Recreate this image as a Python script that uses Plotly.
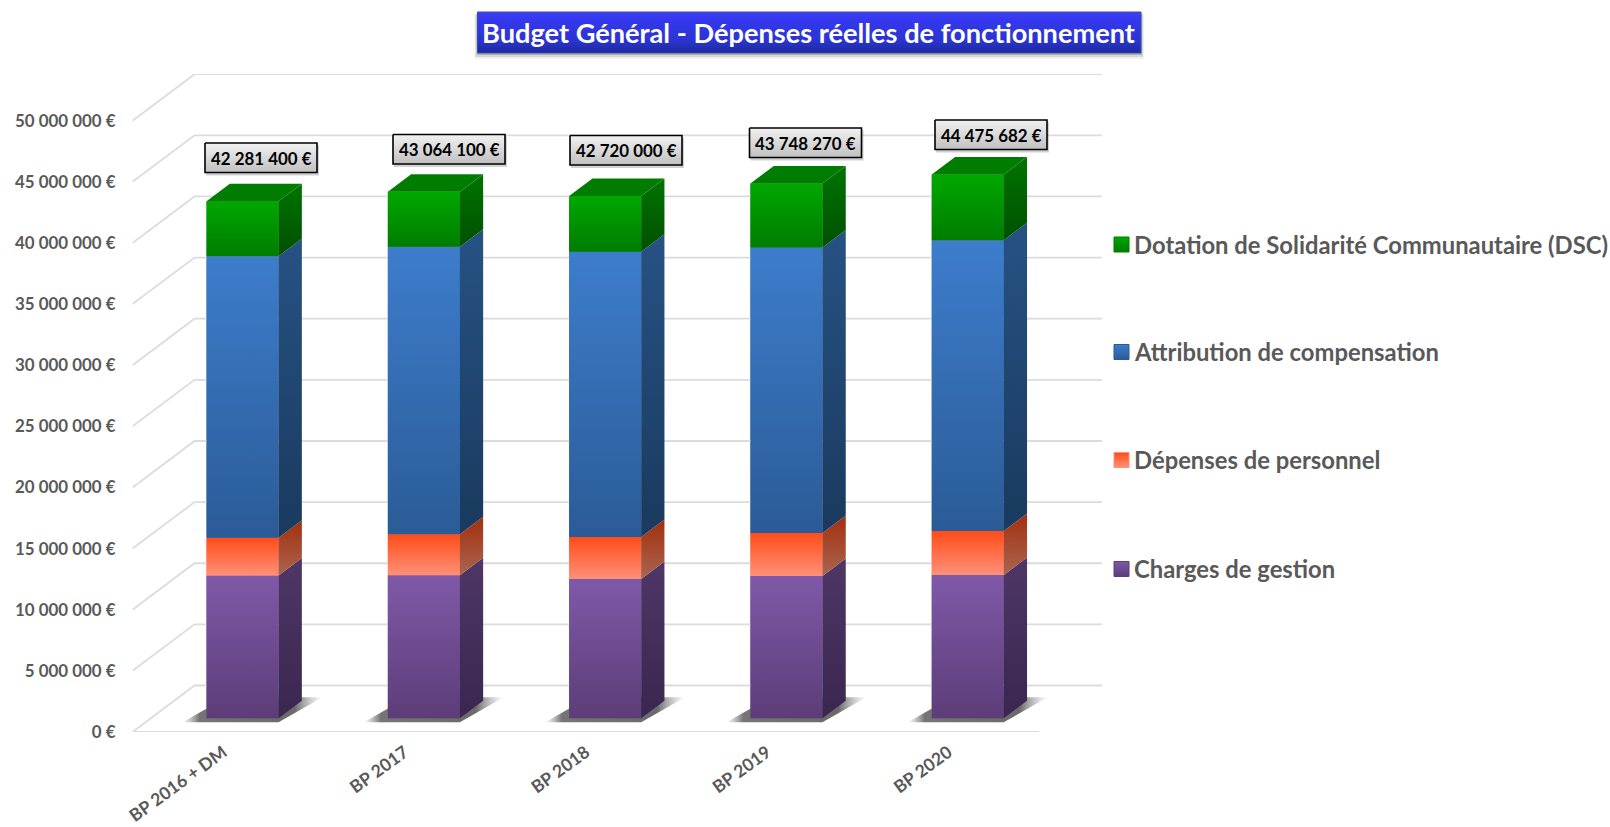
import plotly.graph_objects as go

# ---------- data ----------
categories = ["BP 2016 + DM", "BP 2017", "BP 2018", "BP 2019", "BP 2020"]
charges = [11670000, 11700000, 11390000, 11640000, 11720000]
personnel = [3100000, 3350000, 3440000, 3520000, 3610000]
attribution = [23030000, 23520000, 23340000, 23340000, 23770000]
dotation = [4481400, 4494100, 4550000, 5248270, 5375682]
totals = [42281400, 43064100, 42720000, 43748270, 44475682]
total_labels = ["42 281 400 €", "43 064 100 €", "42 720 000 €", "43 748 270 €", "44 475 682 €"]
y_ticks = [0, 5000000, 10000000, 15000000, 20000000, 25000000, 30000000, 35000000, 40000000, 45000000, 50000000]
y_tick_labels = ["0 €", "5 000 000 €", "10 000 000 €", "15 000 000 €", "20 000 000 €", "25 000 000 €",
                 "30 000 000 €", "35 000 000 €", "40 000 000 €", "45 000 000 €", "50 000 000 €"]
title_text = "Budget Général - Dépenses réelles de fonctionnement"

# ---------- geometry / styles ----------
W, H = 1610, 827
PX_LEFT, PX_RIGHT, PX_TOP, PX_BOTTOM = 132.5, 1102.0, 74.0, 732.0
PX_PER_CAT = 181.3
PX_PER_UNIT = 611.3 / 50e6
X0, X1 = -0.5, -0.5 + (PX_RIGHT - PX_LEFT) / PX_PER_CAT
Y1 = (PX_BOTTOM - PX_TOP) / PX_PER_UNIT
WALL_DX, WALL_DY = 62 / PX_PER_CAT, 46.5 / PX_PER_UNIT
BAR_CENTER = 0.107
BAR_W = 72 / PX_PER_CAT
BAR_BASE = 13.7 / PX_PER_UNIT
SIDE_DX, SIDE_DY = 23.3 / PX_PER_CAT, 17.5 / PX_PER_UNIT
FONT = "Lato, Carlito, Calibri, sans-serif"
GREY = "#595959"

series = [
    dict(name="Charges de gestion", values=charges, base="#6d4a94",
         front=("#5c3d78", "#7f59a8"), side=("#3a2650", "#4e3766")),
    dict(name="Dépenses de personnel", values=personnel, base="#ff6a40",
         front=("#ff9078", "#ff4c18"), side=("#ab6450", "#a2300e")),
    dict(name="Attribution de compensation", values=attribution, base="#3369ae",
         front=("#2b5b97", "#3d7dcc"), side=("#1a3a5e", "#265284")),
    dict(name="Dotation de Solidarité Communautaire (DSC)", values=dotation, base="#009400",
         front=("#007c00", "#00a800"), side=("#005000", "#007400")),
]


def gradient(low, high):
    return dict(type="vertical", colorscale=[[0, low], [1, high]])


fig = go.Figure()

# native stacked bars (front faces), positioned by explicit bases on the y scale
cum = [BAR_BASE] * len(categories)
xs = [i + BAR_CENTER for i in range(len(categories))]
for s in series:
    fig.add_trace(go.Bar(x=xs, y=s["values"], base=list(cum), width=BAR_W, name=s["name"],
                         marker=dict(color=s["base"], line=dict(width=0)), hoverinfo="skip", showlegend=False))
    s["bottoms"] = list(cum)
    cum = [c + v for c, v in zip(cum, s["values"])]

# perspective gridlines
for v in y_ticks:
    gx = [X0, X0 + WALL_DX, X1] if v else [X0 + 5, X0, X0 + WALL_DX, X1]
    gy = [v, v + WALL_DY, v + WALL_DY] if v else [0, 0, WALL_DY, WALL_DY]
    fig.add_trace(go.Scatter(x=gx, y=gy, mode="lines", line=dict(color="#dcdcdc", width=1.8),
                             hoverinfo="skip", showlegend=False))

# floor shadows
for x in xs:
    left, right = x - BAR_W / 2, x + BAR_W / 2
    sx = [left - 24 / PX_PER_CAT, right, right + 44 / PX_PER_CAT, left + 20 / PX_PER_CAT]
    b = BAR_BASE
    sy = [b - 4 / PX_PER_UNIT, b - 4 / PX_PER_UNIT, b + 21 / PX_PER_UNIT, b + 21 / PX_PER_UNIT]
    fig.add_trace(go.Scatter(
        x=sx + sx[:1], y=sy + sy[:1], mode="lines", fill="toself", line=dict(width=0),
        fillgradient=dict(type="horizontal", colorscale=[[0, "rgba(140,140,140,0)"], [0.12, "rgba(110,110,110,0.95)"],
                                                         [0.8, "rgba(90,90,90,0.9)"], [1, "rgba(150,150,150,0)"]]),
        hoverinfo="skip", showlegend=False))

# gradient faces
for k, s in enumerate(series):
    for i, x in enumerate(xs):
        left, right = x - BAR_W / 2, x + BAR_W / 2
        b, t = s["bottoms"][i], s["bottoms"][i] + s["values"][i]
        fig.add_trace(go.Scatter(x=[left, right, right, left, left], y=[b, b, t, t, b], mode="lines", fill="toself",
                                 line=dict(width=0), fillgradient=gradient(*s["front"]),
                                 hoverinfo="skip", showlegend=False))
        fig.add_trace(go.Scatter(x=[right, right + SIDE_DX, right + SIDE_DX, right, right],
                                 y=[b, b + SIDE_DY, t + SIDE_DY, t, b], mode="lines", fill="toself",
                                 line=dict(width=0), fillgradient=gradient(*s["side"]),
                                 hoverinfo="skip", showlegend=False))
        if k == len(series) - 1:
            fig.add_trace(go.Scatter(x=[left, right, right + SIDE_DX, left + SIDE_DX, left],
                                     y=[t, t, t + SIDE_DY, t + SIDE_DY, t], mode="lines", fill="toself",
                                     line=dict(width=0), fillcolor="#007d00",
                                     hoverinfo="skip", showlegend=False))


# ---------- overlay in page pixels: title, label boxes, legend swatches ----------
def px_box(x0, y0, x1, y1, grad=None, color=None, line=None):
    t = dict(x=[x0, x1, x1, x0, x0], y=[y0, y0, y1, y1, y0], mode="lines", fill="toself",
             xaxis="x2", yaxis="y2", hoverinfo="skip", showlegend=False,
             line=dict(width=line[1], color=line[0]) if line else dict(width=0))
    if grad:
        t["fillgradient"] = grad
    else:
        t["fillcolor"] = color
    fig.add_trace(go.Scatter(**t))


# title
for o, a in ((6, 0.08), (4, 0.14), (2, 0.22)):
    px_box(477.5 - o / 2, 12 + o / 2, 1141 + o / 2, 53 + o, color=f"rgba(60,60,60,{a})")
px_box(477.5, 12, 1141, 53,
       grad=dict(type="vertical", colorscale=[[0, "#1c2a9e"], [0.3, "#2a34d0"], [0.8, "#3538ee"], [1, "#3c3ff8"]]),
       line=("#3c4fa8", 1))

annotations = [dict(text=f"<b>{title_text}</b>", x=808.5, y=32, xref="x2", yref="y2", showarrow=False,
                    font=dict(family=FONT, size=27.2, color="white"))]

# value label boxes
label_boxes = [(205, 143), (393, 134.5), (570, 135.5), (749.5, 128), (935, 120)]
LBW, LBH = 112, 29.5
for (bx, by), lab in zip(label_boxes, total_labels):
    px_box(bx + 1, by + 2, bx + LBW + 2, by + LBH + 3, color="rgba(70,70,70,0.25)")
    px_box(bx, by, bx + LBW, by + LBH, grad=dict(type="vertical", colorscale=[[0, "#c0c0c0"], [1, "#f2f2f2"]]),
           line=("#000000", 1.6))
    annotations.append(dict(text=f"<b>{lab}</b>", x=bx + LBW / 2, y=by + LBH / 2 + 0.5, xref="x2", yref="y2",
                            showarrow=False, font=dict(family=FONT, size=16.9, color="#000000")))

# legend
legend_rows = [244.5, 352, 460, 569]
for s, ly in zip(reversed(series), legend_rows):
    px_box(1114, ly - 7.5, 1129, ly + 7.5, grad=gradient(s["front"][0], s["front"][1]), line=(s["front"][0], 1))
    annotations.append(dict(text=f"<b>{s['name']}</b>", x=1132, y=ly, xref="x2", yref="y2", xanchor="left",
                            showarrow=False, font=dict(family=FONT, size=23.8, color=GREY)))

fig.update_layout(
    width=W, height=H, margin=dict(l=0, r=0, t=0, b=0), paper_bgcolor="white", plot_bgcolor="rgba(0,0,0,0)",
    barmode="overlay", showlegend=False, annotations=annotations, font=dict(family=FONT),
    xaxis=dict(domain=[PX_LEFT / W, PX_RIGHT / W], range=[X0, X1], tickmode="array", automargin=False,
               tickvals=list(range(len(categories))), ticktext=[f"<b>{c}</b>" for c in categories],
               tickangle=-36, showgrid=False, zeroline=False, showline=False, ticks="", ticklabelstandoff=6,
               tickfont=dict(family=FONT, size=17.5, color=GREY)),
    yaxis=dict(domain=[1 - PX_BOTTOM / H, 1 - PX_TOP / H], range=[0, Y1], tickmode="array", automargin=False,
               tickvals=y_ticks, ticktext=[f"<b>{t}</b>" for t in y_tick_labels], showgrid=False, zeroline=False,
               showline=False, ticks="", ticklabelstandoff=16, tickfont=dict(family=FONT, size=16.9, color=GREY)),
    xaxis2=dict(domain=[0, 1], range=[0, W], visible=False, anchor="y2", fixedrange=True, automargin=False),
    yaxis2=dict(domain=[0, 1], range=[H, 0], visible=False, anchor="x2", fixedrange=True, automargin=False),
)

fig.write_html("out.html", post_script="document.body.style.margin='0';document.body.style.overflow='hidden';",
               config={"displayModeBar": False})
